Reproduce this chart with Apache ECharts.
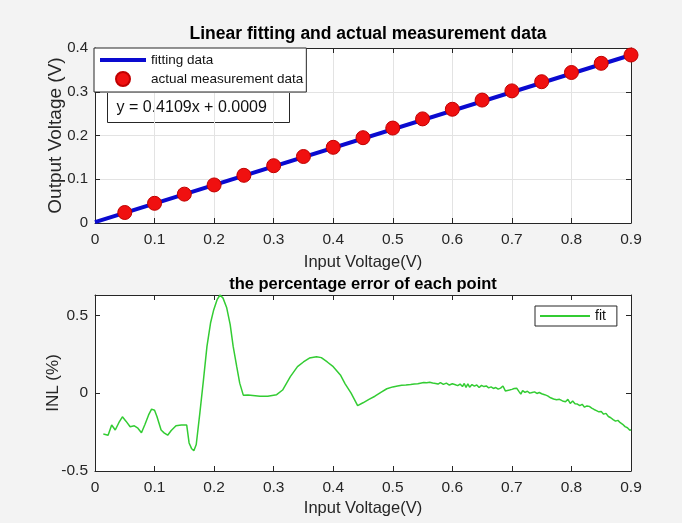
<!DOCTYPE html>
<html>
<head>
<meta charset="utf-8">
<script src="https://cdn.jsdelivr.net/npm/echarts@6/dist/echarts.min.js"></script>
<style>
  html, body { margin: 0; padding: 0; background: #f3f3f3; }
  #main { width: 682px; height: 523px; }
</style>
</head>
<body>
<div id="main"></div>
<script>
// top plot: measured points and fitted line
const measX = [0.05, 0.1, 0.15, 0.2, 0.25, 0.3, 0.35, 0.4, 0.45, 0.5, 0.55, 0.6, 0.65, 0.7, 0.75, 0.8, 0.85, 0.9];
const measY = [0.024, 0.045, 0.066, 0.087, 0.109, 0.131, 0.152, 0.173, 0.195, 0.217, 0.238, 0.26, 0.281, 0.302, 0.323, 0.344, 0.365, 0.384];
const fitX = [0, 0.9];
const fitY = [0.002, 0.384];

// bottom plot: INL (%)
const inlX = [0.014, 0.022, 0.028, 0.034, 0.04, 0.046, 0.052, 0.059, 0.066, 0.072, 0.078, 0.084, 0.09, 0.095, 0.1, 0.104, 0.111, 0.116, 0.122, 0.128, 0.136, 0.145, 0.154, 0.158, 0.162, 0.166, 0.17, 0.176, 0.182, 0.188, 0.194, 0.199, 0.205, 0.21, 0.215, 0.221, 0.227, 0.232, 0.238, 0.243, 0.249, 0.257, 0.265, 0.277, 0.29, 0.305, 0.315, 0.328, 0.34, 0.35, 0.36, 0.372, 0.38, 0.39, 0.4, 0.412, 0.42, 0.43, 0.441,
  0.45, 0.46, 0.47, 0.48, 0.49, 0.5, 0.508, 0.515, 0.522, 0.53, 0.536, 0.542, 0.548, 0.552, 0.557, 0.562, 0.567, 0.572, 0.576, 0.58, 0.585, 0.59, 0.595, 0.6, 0.604, 0.609, 0.613, 0.617, 0.62, 0.623, 0.626, 0.629, 0.633, 0.637, 0.641, 0.645, 0.649, 0.653, 0.657, 0.661, 0.665, 0.669, 0.673, 0.677, 0.681, 0.685, 0.689, 0.692, 0.696, 0.7, 0.704, 0.708, 0.712, 0.715, 0.718, 0.722, 0.726, 0.73, 0.734, 0.738, 0.742, 0.746, 0.75, 0.755, 0.76, 0.765, 0.77, 0.775, 0.78, 0.785, 0.79, 0.794, 0.798, 0.802, 0.806, 0.81, 0.814, 0.818, 0.822, 0.826, 0.83, 0.834, 0.838, 0.842, 0.846, 0.85, 0.854, 0.858, 0.862, 0.866, 0.87, 0.874, 0.878, 0.882, 0.886, 0.89, 0.894, 0.898, 0.9];
const inlY = [-0.263, -0.27, -0.205, -0.237, -0.19, -0.152, -0.18, -0.216, -0.21, -0.225, -0.254, -0.2, -0.14, -0.103, -0.11, -0.15, -0.237, -0.255, -0.27, -0.24, -0.21, -0.205, -0.205, -0.32, -0.355, -0.37, -0.33, -0.13, 0.08, 0.3, 0.45, 0.53, 0.6, 0.63, 0.61, 0.55, 0.44, 0.3, 0.17, 0.064, -0.013, -0.012, -0.015, -0.02, -0.02, -0.01, 0.02, 0.106, 0.17, 0.2, 0.225, 0.234, 0.228, 0.2, 0.17, 0.117, 0.06, 0.0, -0.08,
  -0.062, -0.04, -0.02, 0.005, 0.028, 0.04, 0.046, 0.05, 0.052, 0.055, 0.058, 0.06, 0.065, 0.068, 0.066, 0.07, 0.065, 0.062, 0.058, 0.068, 0.056, 0.064, 0.052, 0.06, 0.055, 0.048, 0.058, 0.042, 0.062, 0.036, 0.06, 0.038, 0.055, 0.045, 0.052, 0.036, 0.05, 0.042, 0.046, 0.034, 0.04, 0.03, 0.036, 0.026, 0.032, 0.046, 0.014, 0.024, 0.02, 0.024, 0.03, 0.032, 0.01, -0.006, 0.016, 0.005, 0.012, 0.0, 0.004, 0.008, -0.002, 0.004, -0.004, -0.01, -0.018, -0.03, -0.038, -0.042, -0.04, -0.05, -0.055, -0.04, -0.066, -0.05, -0.068, -0.07, -0.08, -0.072, -0.09, -0.082, -0.085, -0.096, -0.105, -0.112, -0.12, -0.118, -0.135, -0.13, -0.15, -0.158, -0.17, -0.18, -0.175, -0.19, -0.2, -0.215, -0.222, -0.238, -0.235];

const font = "Liberation Sans, Arial, sans-serif";
const ink = "#262626";

function frameAxis(extra) {
  return Object.assign({
    type: "value",
    nameMoveOverlap: false,
    axisLine: { show: true, onZero: false, lineStyle: { color: ink, width: 1 } },
    axisTick: { show: true, inside: true, length: 5, lineStyle: { color: ink } },
    axisLabel: { show: false },
    splitLine: { show: false }
  }, extra);
}

const chart = echarts.init(document.getElementById("main"));

const option = {
  backgroundColor: "#f3f3f3",
  animation: false,
  textStyle: { fontFamily: font },
  title: [
    { text: "Linear fitting and actual measurement data", left: 363, top: 20, textAlign: "center",
      textStyle: { fontSize: 17.5, fontWeight: "bold", color: "#000", fontFamily: font } },
    { text: "the percentage error of each point", left: 358, top: 271, textAlign: "center",
      textStyle: { fontSize: 16.5, fontWeight: "bold", color: "#000", fontFamily: font } }
  ],
  grid: [
    { left: 95, right: 51, top: 48, height: 175, show: true, backgroundColor: "#fff", borderWidth: 0 },
    { left: 95, right: 51, top: 295, height: 176, show: true, backgroundColor: "#fff", borderWidth: 0 }
  ],
  xAxis: [
    frameAxis({ gridIndex: 0, min: 0, max: 0.9, interval: 0.1,
      name: "Input Voltage(V)", nameLocation: "middle", nameGap: 31,
      nameTextStyle: { fontSize: 16.5, color: ink, fontFamily: font },
      axisLabel: { show: true, fontSize: 15.5, color: ink, margin: 9, fontFamily: font },
      splitLine: { show: true, lineStyle: { color: "#e3e3e3" } } }),
    frameAxis({ gridIndex: 0, min: 0, max: 0.9, interval: 0.1, position: "top" }),
    frameAxis({ gridIndex: 1, min: 0, max: 0.9, interval: 0.1,
      name: "Input Voltage(V)", nameLocation: "middle", nameGap: 29,
      nameTextStyle: { fontSize: 16.5, color: ink, fontFamily: font },
      axisLabel: { show: true, fontSize: 15.5, color: ink, margin: 9, fontFamily: font } }),
    frameAxis({ gridIndex: 1, min: 0, max: 0.9, interval: 0.1, position: "top" })
  ],
  yAxis: [
    frameAxis({ gridIndex: 0, min: 0, max: 0.4, interval: 0.1,
      name: "Output Voltage (V)", nameLocation: "middle", nameGap: 30,
      nameTextStyle: { fontSize: 19, color: ink, fontFamily: font },
      axisLabel: { show: true, fontSize: 15, color: ink, margin: 7, fontFamily: font },
      splitLine: { show: true, lineStyle: { color: "#e3e3e3" } } }),
    frameAxis({ gridIndex: 0, min: 0, max: 0.4, interval: 0.1, position: "right" }),
    frameAxis({ gridIndex: 1, min: -0.5, max: 0.63, interval: 0.5,
      name: "INL (%)", nameLocation: "middle", nameGap: 33,
      nameTextStyle: { fontSize: 17, color: ink, fontFamily: font },
      axisLabel: { show: true, fontSize: 15.5, color: ink, margin: 7, showMaxLabel: false, fontFamily: font } }),
    frameAxis({ gridIndex: 1, min: -0.5, max: 0.63, interval: 0.5, position: "right" })
  ],
  legend: [
    { data: [
        { name: "fitting data", itemStyle: { opacity: 0 }, lineStyle: { width: 4, color: "#0a0ad0" } },
        { name: "actual measurement data" }
      ], orient: "vertical",
      left: 94, top: 48, itemWidth: 46, itemHeight: 14, itemGap: 4,
      padding: [5, 3, 5, 4], backgroundColor: "#fff", borderColor: ink, borderWidth: 1,
      textStyle: { fontSize: 13.5, color: "#111", fontFamily: font } },
    { data: [
        { name: "fit", itemStyle: { opacity: 0 }, lineStyle: { width: 2, color: "#33cc33" } }
      ], orient: "vertical",
      left: 535, top: 306, itemWidth: 50, itemHeight: 14, itemGap: 4,
      padding: [3, 11, 3, 4], backgroundColor: "#fff", borderColor: ink, borderWidth: 1,
      textStyle: { fontSize: 14, color: "#111", fontFamily: font } }
  ],
  graphic: [
    { type: "group", left: 107, top: 92, z: 100, children: [
      { type: "rect", shape: { x: 0, y: 0, width: 182, height: 30 },
        style: { fill: "#fff", stroke: ink, lineWidth: 1 } },
      { type: "text", x: 9, y: 15, style: { text: "y = 0.4109x + 0.0009", fontSize: 16,
        fontFamily: font, fill: "#111", verticalAlign: "middle" } }
    ] }
  ],
  series: [
    { name: "fitting data", type: "line", xAxisIndex: 0, yAxisIndex: 0,
      data: fitX.map((x, i) => [x, fitY[i]]), symbol: "none",
      lineStyle: { color: "#0a0ad0", width: 4 }, itemStyle: { color: "#0a0ad0" }, z: 2 },
    { name: "actual measurement data", type: "scatter", xAxisIndex: 0, yAxisIndex: 0,
      data: measX.map((x, i) => [x, measY[i]]), symbolSize: 14,
      itemStyle: { color: "#f01010", borderColor: "#c00000", borderWidth: 1, opacity: 1 }, z: 3 },
    { name: "fit", type: "line", xAxisIndex: 2, yAxisIndex: 2,
      data: inlX.map((x, i) => [x, inlY[i]]), symbol: "none",
      lineStyle: { color: "#33cc33", width: 1.5 }, itemStyle: { color: "#33cc33" } }
  ]
};

chart.setOption(option);
</script>
</body>
</html>
